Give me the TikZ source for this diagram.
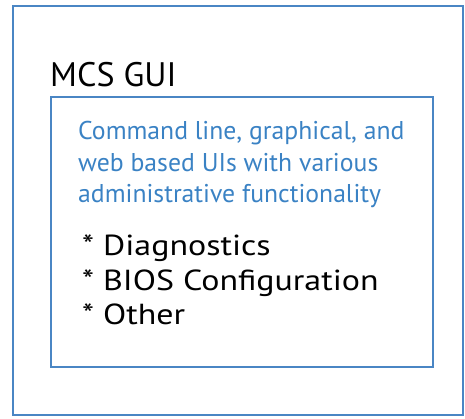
\documentclass[tikz,border=0pt]{standalone}
\usepackage{fontspec}
\setmainfont{PT Sans}
\newfontfamily\itemfont[FakeStretch=1.17]{PT Sans}
\definecolor{boxblue}{RGB}{74,134,196}
\definecolor{textblue}{RGB}{58,130,196}
\tikzset{
  frame/.style={draw=boxblue, line width=1.8pt},
  title/.style={anchor=base west, inner sep=0pt, font=\fontsize{34}{40}\selectfont, text=black},
  desc/.style={anchor=base west, inner sep=0pt, font=\fontsize{25.7}{30}\selectfont, text=textblue},
  item/.style={anchor=base west, inner sep=0pt, font=\itemfont\fontsize{29}{34}\selectfont, text=black}
}
\begin{document}
\begin{tikzpicture}[x=1pt,y=-1pt]
\useasboundingbox (0,0) rectangle (465,419);
\draw[frame] (13,6) rectangle (463,415);
\node[title] (ttl) at (50,87) {MCS GUI};
\draw[frame] (51,97) rectangle (433,367);
\node[desc] (d1) at (78,140) {Command line, graphical, and};
\node[desc] (d2) at (78,172) {web based UIs with various};
\node[desc] (d3) at (78,203) {administrative functionality};
\node[item] (i1) at (82,255) {* Diagnostics};
\node[item] (i2) at (82,290) {* BIOS Configuration};
\node[item] (i3) at (82,324) {* Other};
\end{tikzpicture}
\end{document}
